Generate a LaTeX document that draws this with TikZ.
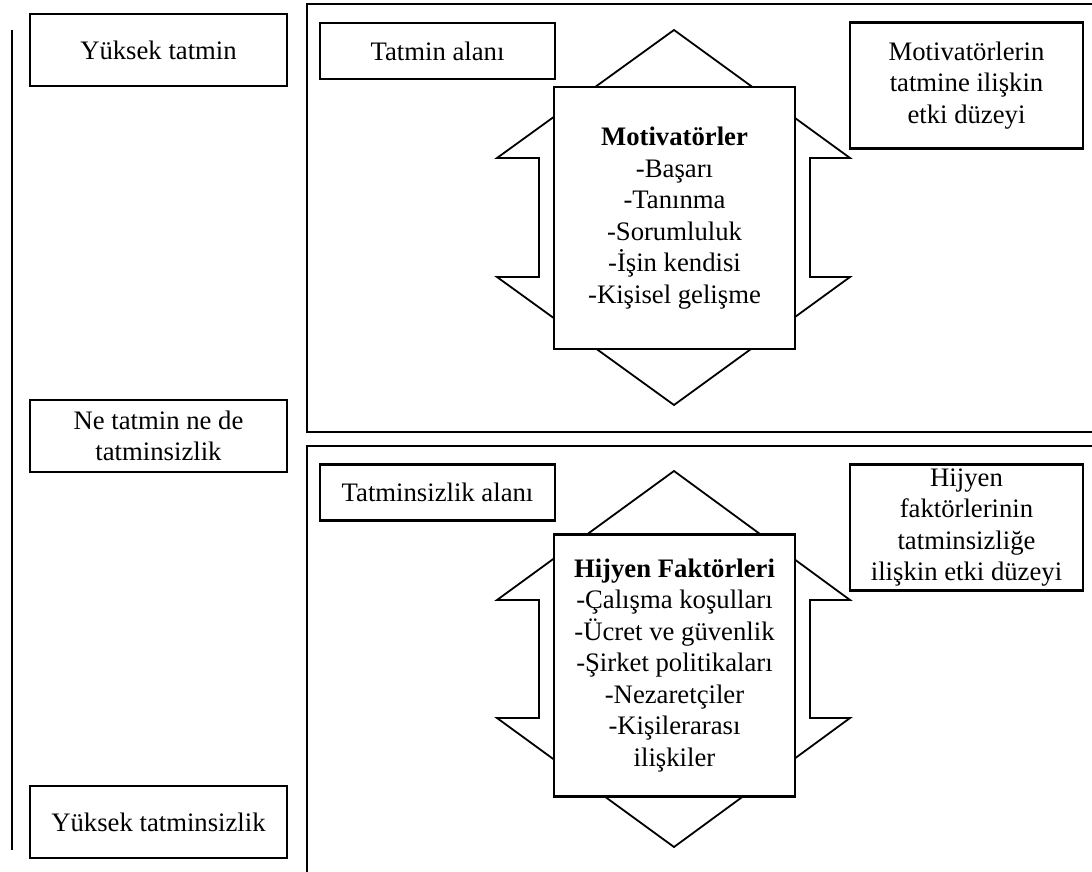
\documentclass[tikz,border=0pt]{standalone}
\usepackage{fontspec}
\setmainfont{Liberation Serif}
\begin{document}
\begin{tikzpicture}[x=1pt,y=-1pt,
  txt/.style={font=\fontsize{26.7}{31.5}\selectfont},
  box/.style={txt, draw, line width=2.4pt, fill=white, align=center, inner sep=0pt},
  sidebox/.style={box, minimum width=257pt, minimum height=72pt},
  areabox/.style={box, minimum width=235pt, minimum height=56pt},
  notebox/.style={box, minimum width=233pt, minimum height=126pt},
  corebox/.style={box, line width=2.2pt, minimum width=241pt, minimum height=262pt},
  frame/.style={line width=2.6pt},
  dblarrow/.style={draw, line width=1.8pt, fill=white, line join=miter}]
\useasboundingbox (0,0) rectangle (1092,872);

% scale on the left
\coordinate (axtop) at (12,30);
\coordinate (axbot) at (12,850);
\draw[frame] (axtop) -- (axbot);

\node[sidebox] (high) at (158.5,50) {Yüksek tatmin};
\node[sidebox] (mid) at (158.5,436) {Ne tatmin ne de\\tatminsizlik};
\node[sidebox] (low) at (158.5,822) {Yüksek tatminsizlik};

% area frames
\coordinate (f1a) at (1092,4);
\coordinate (f1b) at (307,4);
\coordinate (f1c) at (307,432);
\coordinate (f1d) at (1092,432);
\draw[frame] (f1a) -- (f1b) -- (f1c) -- (f1d);
\coordinate (f2a) at (1092,446);
\coordinate (f2b) at (307,446);
\coordinate (f2c) at (307,872);
\draw[frame] (f2a) -- (f2b) -- (f2c);

% satisfaction area
\node[areabox] (sat) at (437.5,51) {Tatmin alanı};
\draw[dblarrow] (674,30) -- (850,158) -- (810,158) -- (810,277) -- (850,277)
  -- (674,405) -- (497,277) -- (539,277) -- (539,158) -- (497,158) -- cycle;
\node[corebox] (mot) at (674.5,218) {\textbf{Motivatörler}\\-Başarı\\-Tanınma\\-Sorumluluk\\-İşin kendisi\\-Kişisel gelişme};
\node[notebox] (motnote) at (966.5,85.5) {Motivatörlerin\\tatmine ilişkin\\etki düzeyi};

% dissatisfaction area
\node[areabox] (dis) at (437.5,492.5) {Tatminsizlik alanı};
\draw[dblarrow] (674,471) -- (850,600) -- (810,600) -- (810,718) -- (850,718)
  -- (674,847) -- (497,718) -- (539,718) -- (539,600) -- (497,600) -- cycle;
\node[corebox] (hyg) at (674.5,665.5) {\textbf{Hijyen Faktörleri}\\-Çalışma koşulları\\-Ücret ve güvenlik\\-Şirket politikaları\\-Nezaretçiler\\-Kişilerarası\\ilişkiler};
\node[notebox] (hygnote) at (966.5,527.5) {Hijyen\\faktörlerinin\\tatminsizliğe\\ilişkin etki düzeyi};
\end{tikzpicture}
\end{document}
